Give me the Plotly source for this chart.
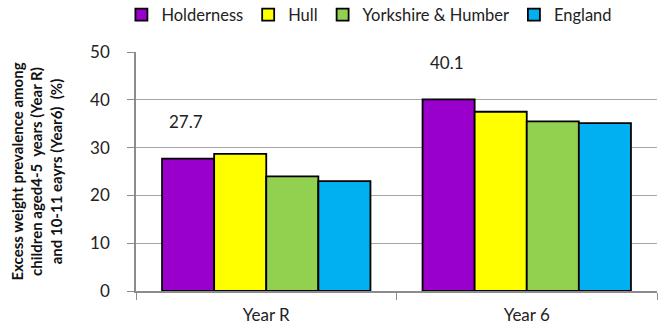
import plotly.graph_objects as go

categories = ["Year R", "Year 6"]
series_names = ["Holderness", "Hull", "Yorkshire & Humber", "England"]
holderness = [27.7, 40.1]
hull = [28.7, 37.5]
yorkshire = [24.0, 35.5]
england = [23.0, 35.1]
colors = ["#9900CC", "#FFFF00", "#92D050", "#00B0F0"]
y_ticks = [0, 10, 20, 30, 40, 50]

FONT = "Lato, Liberation Sans, Arial"

fig = go.Figure()
for name, vals, col in zip(series_names, [holderness, hull, yorkshire, england], colors):
    fig.add_trace(go.Bar(
        x=categories, y=vals, name=name,
        marker=dict(color=col, line=dict(color="black", width=1.8)),
    ))

# Value labels for the Holderness bars
for i, cat in enumerate(categories):
    fig.add_annotation(
        x=cat, y=holderness[i], xref="x", yref="y",
        text=f"{holderness[i]}", showarrow=False,
        xshift=-80, yshift=37,
        font=dict(family=FONT, size=17, color="#222"),
    )

fig.update_layout(
    width=667, height=329,
    margin=dict(l=136, r=10, t=52, b=38, autoexpand=False),
    paper_bgcolor="white", plot_bgcolor="white",
    barmode="group", bargap=0.2, bargroupgap=0,
    font=dict(family=FONT, size=16, color="#222"),
    showlegend=True,
    legend=dict(
        orientation="h", x=0.448, xanchor="center",
        yref="container", y=0.955, yanchor="middle",
        font=dict(family=FONT, size=16.5, color="#222"),
        itemwidth=30, tracegroupgap=0, traceorder="normal",
    ),
    xaxis=dict(
        showline=True, linecolor="#8c8c8c", linewidth=1.5,
        ticks="outside", tickson="boundaries", ticklen=7, tickcolor="#8c8c8c",
        ticklabelstandoff=8,
        tickfont=dict(family=FONT, size=17, color="#222"),
        showgrid=False,
    ),
    yaxis=dict(
        range=[0, 50], tickvals=y_ticks,
        showline=True, linecolor="#8c8c8c", linewidth=1.5,
        ticks="outside", ticklen=7, tickcolor="#8c8c8c",
        ticklabelstandoff=14,
        showgrid=True, gridcolor="#a6a6a6", gridwidth=1.2,
        zeroline=False,
        tickfont=dict(family=FONT, size=17, color="#222"),
        title=dict(
            text="<b>Excess weight prevalence among<br>children aged4-5  years (Year R)<br>and 10-11 eayrs (Year6)  (%)</b>",
            font=dict(family=FONT, size=15, color="#111"), standoff=24,
        ),
    ),
)

fig.write_html("out.html")
